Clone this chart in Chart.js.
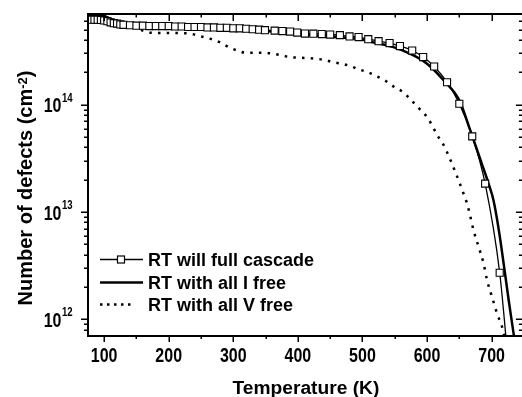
<!DOCTYPE html>
<html>
<head>
<meta charset="utf-8">
<script src="https://cdn.jsdelivr.net/npm/chart.js@4.4.1/dist/chart.umd.min.js"></script>
<style>
html,body{margin:0;padding:0;background:#fff;overflow:hidden;width:522px;height:397px;}
canvas{display:block;}
</style>
</head>
<body>
<canvas id="c" width="530" height="397"></canvas>
<script>
// ---- data ----
const tempsFull = [80,85,90,95,100,105,110,115,120,125,130,140,150,160,170,180,190,200,210,220,230,240,250,260,270,280,290,300,310,320,330,340,349,364,376,388,399,411,424,437,450,465,480,494,509,525,542,558,577,594,611,631,650,670,690,712.5,730];
const fullCascade = [6.2e14,6.2e14,6.2e14,6.15e14,6.1e14,6.0e14,5.85e14,5.75e14,5.7e14,5.6e14,5.55e14,5.5e14,5.45e14,5.45e14,5.4e14,5.4e14,5.4e14,5.4e14,5.35e14,5.35e14,5.3e14,5.3e14,5.3e14,5.25e14,5.25e14,5.2e14,5.2e14,5.15e14,5.15e14,5.1e14,5.05e14,5.0e14,4.95e14,4.9e14,4.85e14,4.8e14,4.7e14,4.6e14,4.59e14,4.55e14,4.5e14,4.45e14,4.33e14,4.27e14,4.08e14,3.91e14,3.75e14,3.52e14,3.2e14,2.78e14,2.27e14,1.62e14,1.02e14,5.07e13,1.84e13,2.72e12,2e11];

const tempsIFree = [75,90,100,105,110,120,130,140,150,160,180,200,250,300,350,393,445,477,500,522,548,574,600,626,650,667,685,695,703,712,720.6,726.5,734,745];
const iFree = [6.8e14,6.8e14,6.7e14,6.5e14,6.3e14,5.9e14,5.6e14,5.4e14,5.3e14,5.25e14,5.2e14,5.15e14,5.1e14,5.0e14,4.85e14,4.58e14,4.33e14,4.2e14,4.03e14,3.75e14,3.44e14,2.98e14,2.41e14,1.68e14,1.1e14,5.76e13,2.8e13,1.86e13,1.28e13,6.3e12,2.72e12,1.5e12,7.4e11,2.5e11];

const tempsVFree = [80,100,110,120,130,140,150,160,172,186,200,213,226,239,252,267,279,293,306,319,333,346,362,375,388,401,414,427,441,454,468,481,495,508,522,535,548,563,575,588,600,608.5,616,624,631,637.6,643.8,650,656.6,662,666,672,680,687.7,693,700.7,708.5,716.2,725];
const vFree = [6.7e14,6.6e14,6.3e14,5.9e14,5.6e14,5.4e14,5.2e14,4.9e14,4.68e14,4.66e14,4.66e14,4.65e14,4.63e14,4.52e14,4.3e14,4.06e14,3.82e14,3.44e14,3.2e14,3.05e14,3.05e14,3.05e14,2.98e14,2.88e14,2.77e14,2.74e14,2.72e14,2.68e14,2.62e14,2.49e14,2.41e14,2.29e14,2.13e14,2.01e14,1.84e14,1.68e14,1.48e14,1.31e14,1.11e14,9.19e13,7.68e13,6.3e13,5.18e13,4.39e13,3.61e13,2.92e13,2.36e13,1.9e13,1.48e13,1.2e13,9.66e12,6.76e12,4.72e12,3.3e12,2.31e12,1.62e12,1.13e12,8.5e11,5e11];

const seriesNames = ['RT will full cascade','RT with all I free','RT with all V free'];
const xTickValues = [100,200,300,400,500,600,700];
const yTickExponents = [12,13,14];
const xTitle = 'Temperature (K)';
const yTitleMain = 'Number of defects (cm';
const yTitleSup = '-2';
const yTitleEnd = ')';

const X_MIN = 75, X_MAX = 750, Y_MIN = 7e11, Y_MAX = 7e14;

function pts(xs, ys){ return xs.map((t,i)=>({x:t, y:ys[i]})); }

const FONT = "'Liberation Sans', Arial, sans-serif";

const decorations = {
  id: 'decorations',
  afterDraw(chart){
    const ctx = chart.ctx, a = chart.chartArea, xs = chart.scales.x, ys = chart.scales.y;
    ctx.save();
    ctx.strokeStyle = '#000';
    ctx.fillStyle = '#000';
    // frame
    ctx.lineWidth = 2;
    ctx.strokeRect(a.left, a.top, a.right - a.left, a.bottom - a.top);
    // x ticks
    ctx.lineWidth = 1.5;
    ctx.beginPath();
    for (let v = 100; v <= 700; v += 50) {
      const px = Math.round(xs.getPixelForValue(v)) + 0.25;
      const major = v % 100 === 0;
      ctx.moveTo(px, a.bottom); ctx.lineTo(px, a.bottom + (major ? 6 : 3));
      ctx.moveTo(px, a.top); ctx.lineTo(px, a.top + (major ? 7 : 3.5));
    }
    // y ticks
    for (let e = 11; e <= 14; e++) {
      for (let m = 1; m <= 9; m++) {
        const v = m * Math.pow(10, e);
        if (v < Y_MIN * 1.001 || v > Y_MAX * 0.999) continue;
        const py = Math.round(ys.getPixelForValue(v)) + 0.25;
        const major = m === 1;
        ctx.moveTo(a.left - (major ? 7 : 4), py); ctx.lineTo(a.left, py);
        ctx.moveTo(a.right - (major ? 8 : 5), py); ctx.lineTo(a.right, py);
      }
    }
    ctx.stroke();

    // x tick labels (condensed bold)
    ctx.textBaseline = 'alphabetic';
    ctx.font = 'bold 20px ' + FONT;
    ctx.textAlign = 'center';
    xTickValues.forEach(v => {
      const px = xs.getPixelForValue(v);
      ctx.save(); ctx.translate(px, 361.5); ctx.scale(0.8, 1);
      ctx.fillText(String(v), 0, 0); ctx.restore();
    });
    // y tick labels 10^n
    ctx.textAlign = 'left';
    const R = 72.7;
    yTickExponents.forEach(e => {
      const py = ys.getPixelForValue(Math.pow(10, e));
      ctx.font = 'bold 12px ' + FONT;
      const sw = ctx.measureText(String(e)).width * 0.8;
      ctx.font = 'bold 20px ' + FONT;
      const bw = ctx.measureText('10').width * 0.8;
      ctx.save(); ctx.translate(R - sw - bw - 0.5, py + 7.5); ctx.scale(0.8, 1);
      ctx.fillText('10', 0, 0); ctx.restore();
      ctx.font = 'bold 12px ' + FONT;
      ctx.save(); ctx.translate(R - sw, py - 3); ctx.scale(0.8, 1);
      ctx.fillText(String(e), 0, 0); ctx.restore();
    });

    // x title
    ctx.font = 'bold 19.2px ' + FONT;
    ctx.textAlign = 'center';
    ctx.fillText(xTitle, (a.left + a.right) / 2, 393.5);

    // y title (rotated)
    ctx.save();
    ctx.translate(31.5, 188);
    ctx.rotate(-Math.PI / 2);
    ctx.textAlign = 'left';
    ctx.font = 'bold 20px ' + FONT;
    const w1 = ctx.measureText(yTitleMain).width;
    const w3 = ctx.measureText(yTitleEnd).width;
    ctx.font = 'bold 13px ' + FONT;
    const w2 = ctx.measureText(yTitleSup).width;
    let sx = -(w1 + w2 + w3) / 2;
    ctx.font = 'bold 20px ' + FONT;
    ctx.fillText(yTitleMain, sx, 0); sx += w1;
    ctx.font = 'bold 13px ' + FONT;
    ctx.fillText(yTitleSup, sx, -5); sx += w2;
    ctx.font = 'bold 20px ' + FONT;
    ctx.fillText(yTitleEnd, sx, 0);
    ctx.restore();

    // legend
    const rows = [259.5, 282.5, 304.5];
    const ds = chart.data.datasets;
    ctx.font = 'bold 18px ' + FONT;
    ctx.textAlign = 'left';
    rows.forEach((ry, i) => {
      const d = ds[i];
      ctx.save();
      ctx.strokeStyle = '#000';
      ctx.lineWidth = d.borderWidth;
      ctx.setLineDash(i === 2 ? [2.5, 4.5] : []);
      ctx.beginPath();
      ctx.moveTo(100, ry); ctx.lineTo(i === 2 ? 131 : 143, ry);
      ctx.stroke();
      ctx.setLineDash([]);
      if (i === 0) {
        ctx.fillStyle = '#fff';
        ctx.lineWidth = 1.2;
        ctx.fillRect(117.5, ry - 3.5, 7, 7);
        ctx.strokeRect(117.5, ry - 3.5, 7, 7);
      }
      ctx.restore();
      ctx.fillText(d.label, 148, ry + 6);
    });
    ctx.restore();
  }
};

new Chart(document.getElementById('c'), {
  type: 'line',
  data: {
    datasets: [
      { label: seriesNames[0], data: pts(tempsFull, fullCascade), borderColor: '#000', borderWidth: 1.3,
        pointStyle: 'rect', pointRadius: 5, pointBorderWidth: 1.1, pointBackgroundColor: '#fff', pointBorderColor: '#000',
        fill: false, cubicInterpolationMode: 'monotone' },
      { label: seriesNames[1], data: pts(tempsIFree, iFree), borderColor: '#000', borderWidth: 2.5,
        pointRadius: 0, fill: false, cubicInterpolationMode: 'monotone' },
      { label: seriesNames[2], data: pts(tempsVFree, vFree), borderColor: '#000', borderWidth: 2.5,
        borderDash: [2.5, 6.2], pointRadius: 0, fill: false, cubicInterpolationMode: 'monotone' }
    ]
  },
  options: {
    responsive: false,
    animation: false,
    devicePixelRatio: 1,
    layout: { padding: { top: 14, right: 6, left: 0, bottom: 0 } },
    plugins: { legend: { display: false }, tooltip: { enabled: false }, title: { display: false } },
    scales: {
      x: { type: 'linear', min: X_MIN, max: X_MAX,
           grid: { display: false }, border: { display: false },
           ticks: { display: false }, title: { display: false },
           afterFit(s){ s.height = 61; } },
      y: { type: 'logarithmic', min: Y_MIN, max: Y_MAX,
           grid: { display: false }, border: { display: false },
           ticks: { display: false }, title: { display: false },
           afterFit(s){ s.width = 88; } }
    }
  },
  plugins: [decorations]
});
</script>
</body>
</html>
